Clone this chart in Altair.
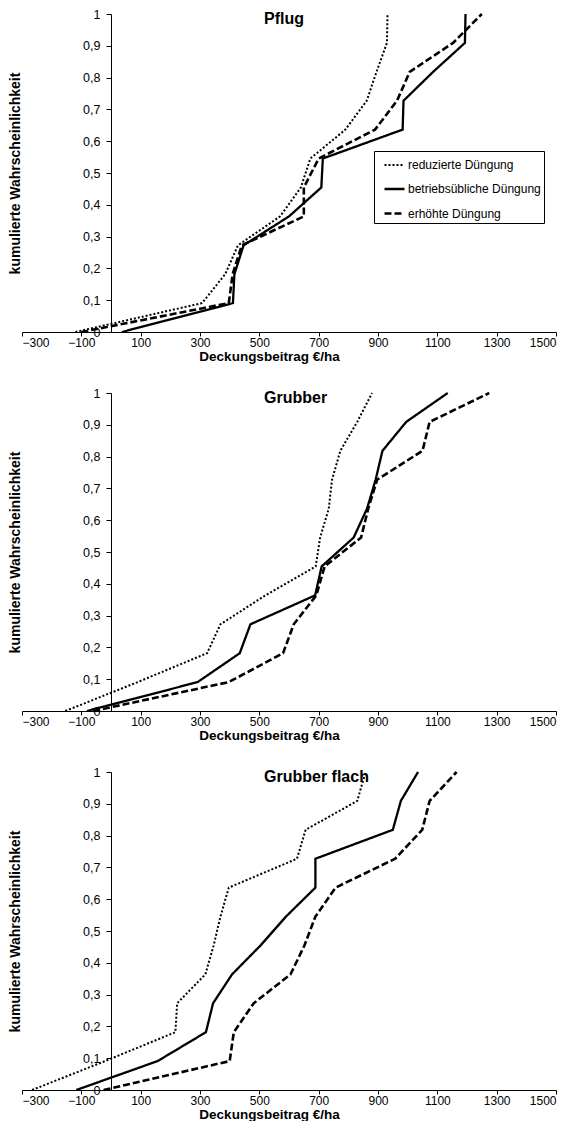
import altair as alt
import pandas as pd

# cumulative probability levels (12 observations)
prob = [0.0, 0.0909, 0.1818, 0.2727, 0.3636, 0.4545, 0.5455, 0.6364, 0.7273, 0.8182, 0.9091, 1.0]

series_names = ["reduzierte Düngung", "betriebsübliche Düngung", "erhöhte Düngung"]

# Pflug
pflug_red = [-120, 307, 385, 428, 570, 640, 672, 790, 862, 895, 930, 932]
pflug_betr = [37, 411, 416, 447, 600, 709, 714, 983, 986, 1086, 1193, 1195]
pflug_erh = [-100, 397, 410, 441, 650, 650, 700, 890, 964, 1007, 1153, 1250]

# Grubber
grub_red = [-154, 90, 324, 369, 520, 690, 705, 734, 745, 773, 830, 880]
grub_betr = [-81, 292, 434, 470, 688, 710, 818, 863, 892, 915, 995, 1135]
grub_erh = [-60, 397, 580, 616, 692, 720, 843, 867, 897, 1050, 1074, 1275]

# Grubber flach
flach_red = [-266, -20, 217, 223, 318, 346, 369, 397, 627, 656, 830, 858]
flach_betr = [-117, 157, 320, 344, 408, 504, 590, 689, 689, 950, 977, 1035]
flach_erh = [-25, 400, 414, 481, 605, 652, 689, 757, 958, 1049, 1074, 1165]

x_ticks = [-300, -100, 100, 300, 500, 700, 900, 1100, 1300, 1500]
y_ticks = [0, 0.1, 0.2, 0.3, 0.4, 0.5, 0.6, 0.7, 0.8, 0.9, 1.0]

FONT = "Liberation Sans"
W = 534
H = 318
Y_AXIS_OFFSET = -W * 300 / 1800


def panel(title, red, betr, erh):
    rows = []
    for name, vals in zip(series_names, [red, betr, erh]):
        for i, (x, p) in enumerate(zip(vals, prob)):
            rows.append({"Serie": name, "x": x, "p": p, "i": i})
    df = pd.DataFrame(rows)
    return (
        alt.Chart(
            df,
            title=alt.TitleParams(
                text=title,
                anchor="start",
                frame="group",
                dx=242,
                offset=-19,
                baseline="top",
                fontSize=16,
                font=FONT,
                fontWeight="bold",
                color="black",
            ),
        )
        .mark_line(color="black")
        .encode(
            x=alt.X(
                "x:Q",
                scale=alt.Scale(domain=[-300, 1500], nice=False, zero=False),
                axis=alt.Axis(
                    values=x_ticks,
                    format="d",
                    title="Deckungsbeitrag €/ha",
                    grid=False,
                    tickSize=4,
                    labelPadding=1,
                    labelFontSize=12,
                    titleFontSize=13.5,
                    titleFontWeight="bold",
                    titleX=247,
                    titleY=24,
                    titleAlign="center",
                    titleBaseline="middle",
                ),
            ),
            y=alt.Y(
                "p:Q",
                scale=alt.Scale(domain=[0, 1], nice=False),
                axis=alt.Axis(
                    values=y_ticks,
                    offset=Y_AXIS_OFFSET,
                    title="kumulierte Wahrscheinlichkeit",
                    grid=False,
                    tickSize=5,
                    labelPadding=6,
                    labelFontSize=12.5,
                    labelExpr="datum.value == 0 ? '0' : (datum.value == 1 ? '1' : replace(format(datum.value, '.1f'), '.', ','))",
                    titleFontSize=14,
                    titleFontWeight="bold",
                    titleAngle=270,
                    titleX=-96,
                    titleY=H / 2,
                    titleAlign="center",
                    titleBaseline="middle",
                ),
            ),
            strokeDash=alt.StrokeDash(
                "Serie:N",
                scale=alt.Scale(domain=series_names, range=[[2, 2], [1, 0], [7, 3]]),
                legend=alt.Legend(
                    title=None,
                    orient="none",
                    legendX=352,
                    legendY=137,
                    direction="vertical",
                    fillColor="white",
                    strokeColor="black",
                    padding=3,
                    rowPadding=6.5,
                    symbolType="stroke",
                    symbolSize=400,
                    symbolStrokeWidth=2.5,
                    symbolStrokeColor="black",
                    symbolOffset=6,
                    labelOffset=2,
                    labelFontSize=12,
                    labelFont=FONT,
                    labelColor="black",
                ),
            ),
            strokeWidth=alt.StrokeWidth(
                "Serie:N",
                scale=alt.Scale(domain=series_names, range=[2, 2.6, 2.6]),
                legend=None,
            ),
            order="i:Q",
        )
        .properties(width=W, height=H)
    )


chart = (
    alt.vconcat(
        panel("Pflug", pflug_red, pflug_betr, pflug_erh),
        panel("Grubber", grub_red, grub_betr, grub_erh),
        panel("Grubber flach", flach_red, flach_betr, flach_erh),
        spacing=24,
    )
    .properties(padding={"left": 0, "top": 0, "right": 0, "bottom": 0}, background="white")
    .configure(font=FONT)
    .configure_view(stroke=None)
    .configure_axis(
        domainColor="black",
        tickColor="black",
        labelColor="black",
        titleColor="black",
        labelFont=FONT,
        titleFont=FONT,
    )
)

chart.save("out.html", embed_options={"renderer": "svg", "actions": False})
